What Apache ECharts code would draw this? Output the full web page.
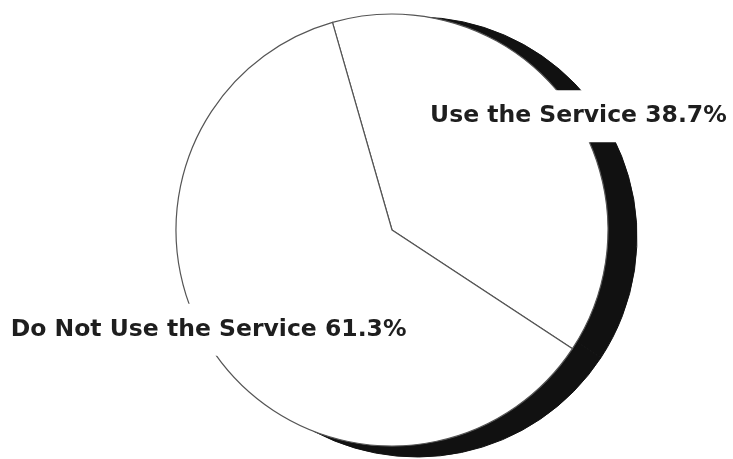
<!DOCTYPE html>
<html>
<head>
<meta charset="utf-8">
<script src="https://cdn.jsdelivr.net/npm/echarts@6/dist/echarts.min.js"></script>
<style>
  html, body { margin: 0; padding: 0; background: #fff; }
  #pie { width: 733px; height: 459px; }
</style>
</head>
<body>
<div id="pie"></div>
<script>
const categories = ['Use the Service', 'Do Not Use the Service']
const shares = [38.7, 61.3]
// label nudges so text sits where the original put it
const labelOffsets = [[97, -48], [-94, 34]]

let myChart = echarts.init(document.getElementById('pie'))

let pieData = categories.map((name, i) => ({
  name: name,
  value: shares[i],
  label: { offset: labelOffsets[i] }
}))

let opt = {
  backgroundColor: '#fff',
  animation: false,
  series: [
    // black "3D" edge behind the pie
    {
      type: 'pie',
      silent: true,
      center: [417, 237],
      radius: 220,
      startAngle: 106,
      z: 1,
      label: { show: false },
      labelLine: { show: false },
      itemStyle: { color: '#111', borderColor: '#111', borderWidth: 1 },
      emphasis: { disabled: true },
      data: shares.map((v, i) => ({ name: categories[i], value: v }))
    },
    {
      type: 'pie',
      center: [392, 230],
      radius: 216,
      startAngle: 106,
      z: 2,
      itemStyle: { color: '#fff', borderColor: '#555', borderWidth: 1.2 },
      label: {
        show: true,
        position: 'inside',
        formatter: '{b} {c}%',
        fontFamily: 'DejaVu Sans',
        fontWeight: 'bold',
        fontSize: 23.5,
        color: '#1e1e1e',
        backgroundColor: '#fff',
        padding: [14, 4]
      },
      labelLine: { show: false },
      emphasis: { disabled: true },
      data: pieData
    }
  ]
}

myChart.setOption(opt)
</script>
</body>
</html>
